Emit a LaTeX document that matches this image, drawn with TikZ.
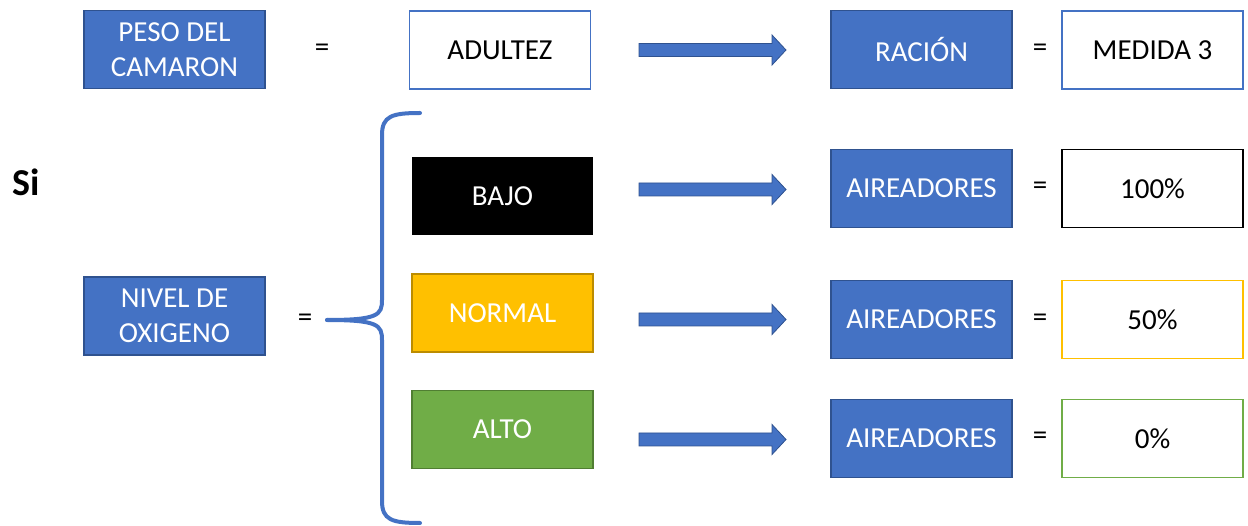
\documentclass[tikz,border=0pt]{standalone}
\usepackage{fontspec}
\setmainfont{Carlito}
\usepackage{xcolor}
\usetikzlibrary{positioning}

\definecolor{azul}{HTML}{4472C4}
\definecolor{azuloscuro}{HTML}{2F528F}
\definecolor{amarillo}{HTML}{FFC000}
\definecolor{amarillooscuro}{HTML}{BC8C00}
\definecolor{verde}{HTML}{70AD47}
\definecolor{verdeoscuro}{HTML}{507E32}

\tikzset{
    caja/.style={minimum width=181pt, minimum height=78pt, inner sep=0pt, line width=1.5pt,
        align=center, font=\fontsize{29}{35}\selectfont},
    cajaazul/.style={caja, fill=azul, draw=azuloscuro, text=white},
    cajablanca/.style={caja, fill=white, draw=#1},
    igual/.style={font=\fontsize{29}{35}\selectfont},
    flecha/.style={fill=azul, draw=azuloscuro, line width=0.8pt},
    llave/.style={draw=azul, line width=4pt, line cap=round}
}

\begin{document}
\begin{tikzpicture}[x=1pt, y=-1pt]
    \useasboundingbox (0,0) rectangle (1248,526);

    % fila de arriba
    \node[cajaazul] (peso) at (174.5,49.5) {PESO DEL\\CAMARON};
    \node[igual] (igual1) at (322,50) {=};
    \node[cajablanca=azul] (adultez) at (500,50) {ADULTEZ};
    \node[cajaazul] (racion) at (921.5,49.5) {RACIÓN};
    \node[igual] (igual2) at (1040,50) {=};
    \node[cajablanca=azul] (medida) at (1152.5,50) {MEDIDA 3};

    \node[font=\fontsize{38}{42}\selectfont\bfseries] (si) at (26,182) {Si};

    % oxigeno
    \node[cajaazul] (nivel) at (174.5,316) {NIVEL DE\\OXIGENO};
    \node[igual] (igual3) at (305,320) {=};

    \node[caja, fill=black, text=white] (bajo) at (502.5,196.5) {BAJO};
    \node[caja, fill=amarillo, draw=amarillooscuro, text=white] (normal) at (502.5,313) {NORMAL};
    \node[caja, fill=verde, draw=verdeoscuro, text=white] (alto) at (502.5,429.5) {ALTO};

    \node[cajaazul] (aire1) at (921.5,188.5) {AIREADORES};
    \node[cajaazul] (aire2) at (921.5,319.5) {AIREADORES};
    \node[cajaazul] (aire3) at (921.5,438.5) {AIREADORES};

    \node[igual] (igual4) at (1040,188) {=};
    \node[igual] (igual5) at (1040,320) {=};
    \node[igual] (igual6) at (1040,438) {=};

    \node[cajablanca=black] (cien) at (1152.5,188.5) {100\%};
    \node[cajablanca=amarillo] (cincuenta) at (1152.5,319.5) {50\%};
    \node[cajablanca=verde] (cero) at (1152.5,438.5) {0\%};

    % llave
    \coordinate (punta) at (327,320);
    \draw[llave] (420,113) .. controls (392,113) and (382,116) .. (382,135) -- (382,300)
        .. controls (382,315) and (378,320) .. (punta);
    \draw[llave] (420,523) .. controls (392,523) and (382,520) .. (382,501) -- (382,340)
        .. controls (382,325) and (378,320) .. (punta);

    % flechas
    \foreach \y in {50,189.5,319.5,439.5}
        \filldraw[flecha] (639,\y-6.5) -- ++(133,0) -- ++(0,-8.5) -- ++(14,15)
            -- ++(-14,15) -- ++(0,-8.5) -- ++(-133,0) -- cycle;

\end{tikzpicture}
\end{document}
